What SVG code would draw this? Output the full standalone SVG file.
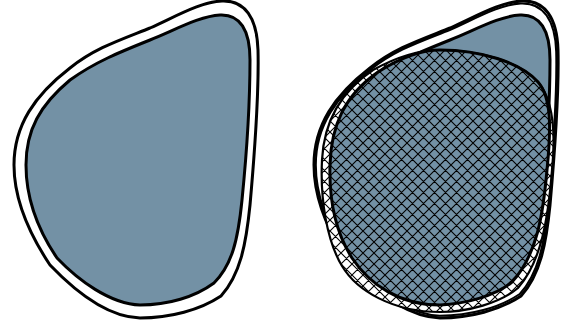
<svg xmlns="http://www.w3.org/2000/svg" xmlns:xlink="http://www.w3.org/1999/xlink" width="581" height="331" viewBox="0 0 581 331">
<style>
.outer{fill:#ffffff;stroke:#000;stroke-width:3;stroke-linejoin:round}
.inner{fill:#7391a5;stroke:#000;stroke-width:3;stroke-linejoin:round}
.dbl{fill:none;stroke:#000;stroke-width:2}
.ring{fill:url(#hw);stroke:#000;stroke-width:2.2;stroke-linejoin:round}
.blob{fill:url(#hb);stroke:#000;stroke-width:3;stroke-linejoin:round}
.hl{stroke:#000;stroke-width:1.1}
</style>
<defs>
<path id="po" d="M222,1 C245,0 257,18 258,50 C259,90 254,160 250,205 C246,245 240,275 221,296 C200,310 170,318 140,318 C105,317 72,288 50,265 C30,235 14,200 14,165 C14,125 35,95 70,68 C95,48 120,40 150,28 C175,17 200,2 222,1 Z"/>
<path id="pi" d="M220,15 C240,14 250,30 250,60 C250,100 246,160 242,200 C238,240 232,265 214,283 C195,297 168,305 140,305 C110,304 78,280 57,258 C38,230 26,200 26,165 C26,130 40,105 70,80 C95,62 120,52 150,40 C175,30 200,16 220,15 Z"/>
<pattern id="hw" width="11" height="11" patternUnits="userSpaceOnUse">
<rect width="11" height="11" fill="#ffffff"/>
<path class="hl" d="M-1,-1 L12,12 M12,-1 L-1,12 M-1,1 L1,-1 M10,12 L12,10 M10,-1 L12,1 M-1,10 L1,12"/>
</pattern>
<pattern id="hb" width="11" height="11" patternUnits="userSpaceOnUse">
<rect width="11" height="11" fill="#7391a5"/>
<path class="hl" d="M-1,-1 L12,12 M12,-1 L-1,12 M-1,1 L1,-1 M10,12 L12,10 M10,-1 L12,1 M-1,10 L1,12"/>
</pattern>
</defs>
<g id="shape-left">
<use xlink:href="#po" href="#po" class="outer"/>
<use xlink:href="#pi" href="#pi" class="inner"/>
</g>
<g id="shape-right">
<use xlink:href="#po" href="#po" class="outer" transform="translate(300,0)"/>
<use xlink:href="#po" href="#po" class="dbl" transform="translate(436,165) scale(0.985) translate(-136,-165)"/>
<use xlink:href="#pi" href="#pi" class="inner" transform="translate(300,0)"/>
<path id="hatched-ring" class="ring" d="M440,50 C480,50 520,62 538,82 C552,98 556,130 552,170 C548,220 541,262 518,288 C500,303 468,312 440,312 C393,312 357,291 342,266 C327,241 320,200 322,160 C324,120 343,90 373,70 C400,55 420,50 440,50 Z"/>
<path id="hatched-blob" class="blob" d="M440,50 C480,50 520,62 538,82 C552,98 551,130 547,170 C543,215 537,255 512,282 C495,296 465,304 440,305 C400,305 370,285 352,258 C336,233 329,200 330,165 C331,125 345,95 378,72 C400,58 420,50 440,50 Z"/>
</g>
</svg>
